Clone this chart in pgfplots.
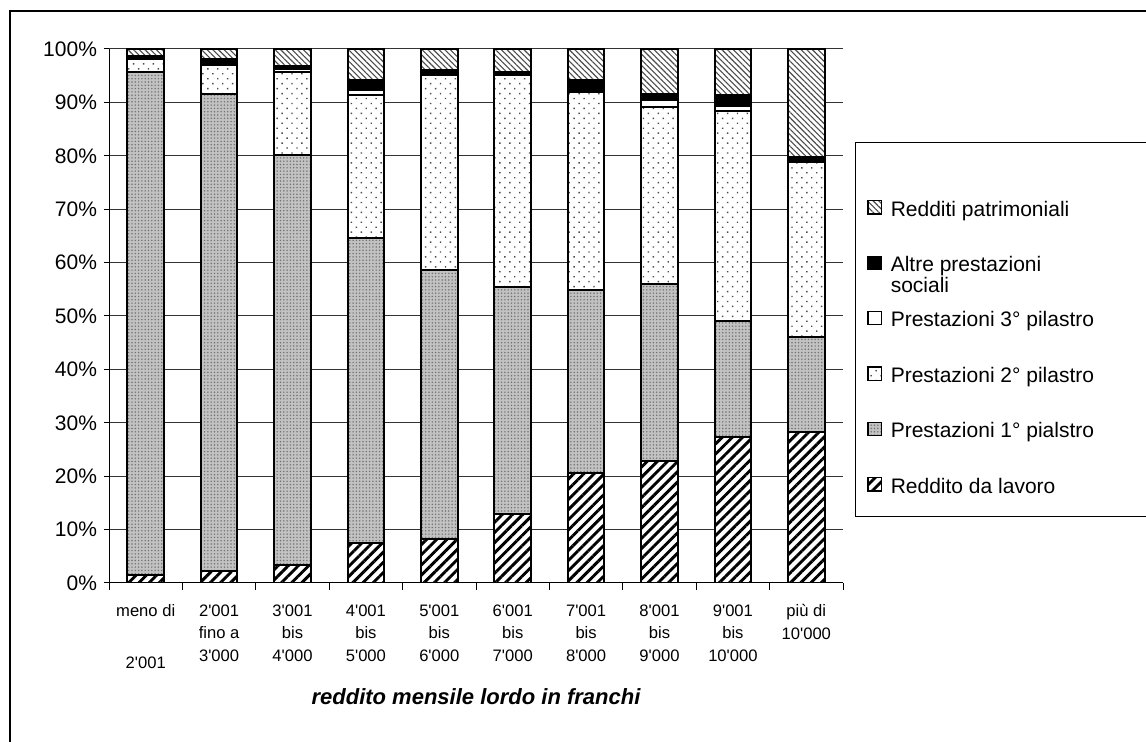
\documentclass[border=0pt]{standalone}
\usepackage{fontspec}
\setmainfont{Liberation Sans}[Ligatures=TeXOff]
\usepackage{pgfplots}
\pgfplotsset{compat=1.18}
\usetikzlibrary{patterns.meta}
\pgfplotsset{sqleg/.style={legend image code/.code={\draw[##1, line width=0.6pt] (0pt,-1.7pt) rectangle (6.6pt,4.9pt);}}}
\begin{document}
\begin{tikzpicture}[x=0.5pt,y=0.5pt]
\useasboundingbox (0,0) rectangle (1146,742);
\draw[line width=0.6pt] (10,0) -- (10,731) -- (1146,731);
\draw[line width=0.5pt] (855,225) rectangle (1200,599);
\begin{axis}[
  at={(54.5pt,79.5pt)}, anchor=south west,
  scale only axis, width=367pt, height=267pt,
  ybar stacked, bar width=18.25pt,
  xmin=-0.5, xmax=9.5, ymin=0, ymax=100,
  axis lines*=left,
  axis line style={black, line width=0.5pt},
  ytick={0,10,...,100},
  yticklabels={0\%,10\%,20\%,30\%,40\%,50\%,60\%,70\%,80\%,90\%,100\%},
  yticklabel style={font=\fontsize{10.5}{12}\selectfont},
  ymajorgrids, major grid style={black!80, line width=0.5pt},
  tick align=outside, major tick length=2.5pt, minor tick length=3.5pt,
  xtick={0,...,9},
  minor xtick={-0.5,0.5,...,9.5},
  xtick style={draw=none},
  minor x tick style={draw=black, line width=0.5pt},
  ytick style={draw=black, line width=0.5pt},
  xticklabels={{meno di\\[14.75pt]2'001},{2'001\\fino a\\3'000},{3'001\\bis\\4'000},{4'001\\bis\\5'000},{5'001\\bis\\6'000},{6'001\\bis\\7'000},{7'001\\bis\\8'000},{8'001\\bis\\9'000},{9'001\\bis\\10'000},{più di\\10'000}},
  xticklabel style={font=\fontsize{8.3}{11.25}\selectfont, align=center, anchor=north, yshift=-4.8pt},
  reverse legend,
  legend style={draw=none, fill=none, at={(1.0245,0.438)}, anchor=west,
    row sep=15.2pt,
    nodes={inner sep=1pt, text height=8pt, text depth=2.5pt, font=\fontsize{10.5}{9.5}\selectfont},
    /tikz/every odd column/.append style={column sep=3.5pt},
    cells={anchor=west}},
  every axis plot/.append style={draw=black, line width=1pt},
]
\addplot[sqleg, fill=white, postaction={pattern color=black, pattern={Lines[angle=45,distance=3.6pt,line width=1.45pt]}}]
  coordinates {(0,1.5) (1,2.2) (2,3.3) (3,7.5) (4,8.2) (5,12.9) (6,20.6) (7,22.8) (8,27.3) (9,28.3)};
\addlegendentry{Reddito da lavoro}
\addplot[sqleg, fill=black!24, postaction={pattern color=black!55, pattern={Dots[distance=1.65pt,radius=0.42pt]}}]
  coordinates {(0,94.1) (1,89.4) (2,76.8) (3,57.1) (4,50.4) (5,42.5) (6,34.3) (7,33.2) (8,21.8) (9,17.8)};
\addlegendentry{Prestazioni 1° pialstro}
\addplot[sqleg, fill=white, postaction={pattern color=black!70, pattern={Dots[angle=45,distance=3.5pt,radius=0.5pt]}}]
  coordinates {(0,2.5) (1,5.4) (2,15.5) (3,26.8) (4,36.5) (5,39.7) (6,37.1) (7,33.2) (8,39.3) (9,32.8)};
\addlegendentry{Prestazioni 2° pilastro}
\addplot[sqleg, fill=white]
  coordinates {(0,0.2) (1,0) (2,0.6) (3,1.0) (4,0) (5,0) (6,0) (7,1.2) (8,1.0) (9,0)};
\addlegendentry{Prestazioni 3° pilastro}
\addplot[sqleg, fill=black]
  coordinates {(0,0.4) (1,1.2) (2,0.6) (3,1.8) (4,1.0) (5,0.5) (6,2.2) (7,1.1) (8,2.0) (9,0.8)};
\addlegendentry{\begin{tabular}[t]{@{}l@{}}Altre prestazioni\\sociali\end{tabular}}
\addplot[sqleg, fill=white, postaction={pattern color=black!70, pattern={Lines[angle=-45,distance=2pt,line width=0.55pt]}}]
  coordinates {(0,1.3) (1,1.8) (2,3.2) (3,5.8) (4,3.9) (5,4.4) (6,5.8) (7,8.5) (8,8.6) (9,20.3)};
\addlegendentry{Redditi patrimoniali}
\end{axis}
\node[font=\bfseries\itshape\fontsize{11}{13}\selectfont] at (476,45) {reddito mensile lordo in franchi};
\end{tikzpicture}
\end{document}
